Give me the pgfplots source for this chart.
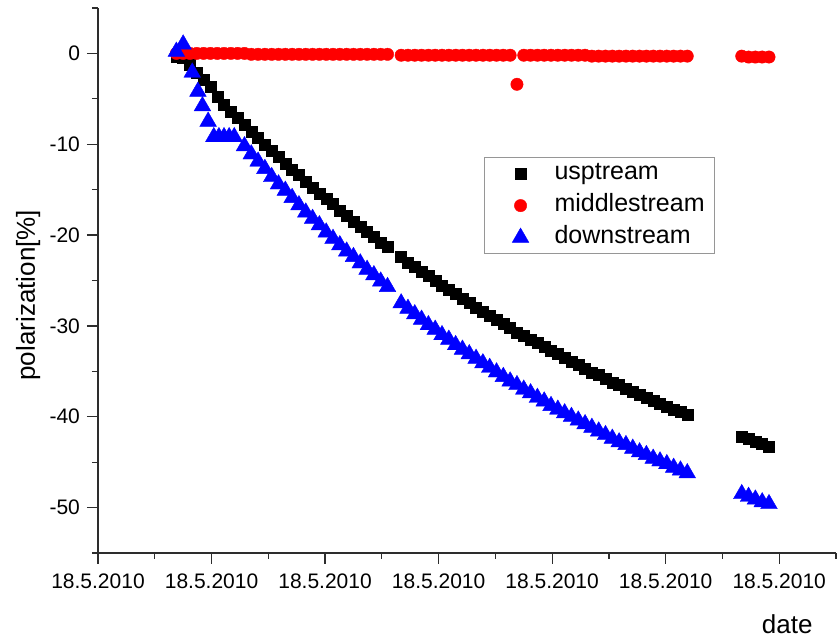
\documentclass[border=0pt]{standalone}
\usepackage{fontspec}
\setmainfont{Liberation Sans}
\usepackage{pgfplots}
\pgfplotsset{compat=1.18}
\definecolor{axisgray}{RGB}{45,45,45}
\definecolor{legframe}{RGB}{150,150,150}

\pgfplotsset{
  markleg/.style={legend image code/.code={%
    \path[draw=none, fill=none] (0pt,0pt) -- (30pt,0pt);
    \draw[##1, only marks] plot coordinates {(17pt,0pt)};}},
}

\begin{document}
\begin{tikzpicture}
\useasboundingbox (0,0) rectangle (418.5pt,320.5pt);
\begin{axis}[
  at={(49pt,44pt)}, anchor=south west,
  scale only axis, width=369pt, height=272.5pt,
  xmin=0, xmax=6.5, ymin=-55, ymax=5,
  axis x line*=bottom, axis y line*=left,
  axis line style={line width=0.65pt, axisgray},
  every tick/.style={line width=0.65pt, axisgray},
  tick align=outside,
  major tick length=5.5pt, minor tick length=3pt,
  xtick={0,1,2,3,4,5,6},
  minor xtick={0.5,1.5,2.5,3.5,4.5,5.5,6.5},
  xticklabel={18.5.2010},
  ytick={-50,-40,-30,-20,-10,0},
  minor ytick={-55,-45,-35,-25,-15,-5,5},
  /pgf/number format/assume math mode=true,
  ticklabel style={font=\fontsize{10.5}{12}\selectfont},
  xticklabel style={yshift=-1.5pt},
  xlabel={date},
  ylabel={polarization[\%]},
  xlabel style={font=\fontsize{13}{15}\selectfont, at={(axis description cs:0.934,0)}, anchor=base, yshift=-40.5pt},
  ylabel style={font=\fontsize{13}{15}\selectfont, at={(axis description cs:0,0.473)}, anchor=base, yshift=31.5pt},
  legend cell align=left,
  legend style={
    at={(axis description cs:0.523,0.7266)}, anchor=north west,
    draw=legframe, line width=0.6pt,
    font=\fontsize{12.5}{15}\selectfont,
    inner xsep=1pt, inner ysep=2pt, row sep=4pt,
    nodes={inner xsep=4pt, inner ysep=0pt, text height=9pt, text depth=3pt},
    /tikz/every odd column/.append style={column sep=0pt},
  },
]

% upstream
\addplot[only marks, mark=square*, mark size=2.75pt, color=black, mark options={line width=0.2pt}, markleg] coordinates {
(0.69,-0.4) (0.75,-0.5) (0.81,-1.2) (0.87,-2.1) (0.93,-2.9) (0.99,-3.7)
(1.05,-4.8) (1.11,-5.6) (1.17,-6.4) (1.23,-7.1) (1.29,-7.9) (1.35,-8.6)
(1.41,-9.3) (1.47,-10.0) (1.53,-10.7) (1.59,-11.4) (1.65,-12.1) (1.71,-12.8)
(1.77,-13.4) (1.83,-14.1) (1.89,-14.8) (1.95,-15.4) (2.01,-16.0) (2.07,-16.6)
(2.13,-17.3) (2.19,-17.9) (2.25,-18.5) (2.31,-19.1) (2.37,-19.6) (2.43,-20.2)
(2.49,-20.8) (2.55,-21.3)
(2.67,-22.4) (2.73,-23.0) (2.79,-23.5) (2.85,-24.0) (2.91,-24.5) (2.97,-25.0)
(3.03,-25.6) (3.09,-26.0) (3.15,-26.5) (3.21,-27.0) (3.27,-27.5) (3.33,-28.0)
(3.39,-28.4) (3.45,-28.9) (3.51,-29.3) (3.57,-29.8) (3.63,-30.2) (3.69,-30.7)
(3.75,-31.1) (3.81,-31.5) (3.87,-31.9) (3.93,-32.3) (3.99,-32.7) (4.05,-33.1)
(4.11,-33.5) (4.17,-33.9) (4.23,-34.3) (4.29,-34.7) (4.35,-35.1) (4.41,-35.4)
(4.47,-35.8) (4.53,-36.2) (4.59,-36.5) (4.65,-36.9) (4.71,-37.2) (4.77,-37.6)
(4.83,-37.9) (4.89,-38.2) (4.95,-38.6) (5.01,-38.9) (5.07,-39.2) (5.13,-39.5)
(5.19,-39.8)
(5.67,-42.2) (5.73,-42.4) (5.79,-42.7) (5.85,-43.0) (5.91,-43.3)
};
\addlegendentry{usptream}

% middlestream
\addplot[only marks, mark=*, mark size=3.1pt, color=red, mark options={line width=0.2pt}, markleg] coordinates {
(0.69,0.0) (0.75,0.0) (0.81,0.0) (0.87,0.0) (0.93,0.0) (0.99,0.0)
(1.05,0.0) (1.11,0.0) (1.17,0.0) (1.23,0.0) (1.29,0.0) (1.35,-0.1)
(1.41,-0.1) (1.47,-0.1) (1.53,-0.1) (1.59,-0.1) (1.65,-0.1) (1.71,-0.1)
(1.77,-0.1) (1.83,-0.1) (1.89,-0.1) (1.95,-0.1) (2.01,-0.1) (2.07,-0.1)
(2.13,-0.1) (2.19,-0.1) (2.25,-0.1) (2.31,-0.1) (2.37,-0.1) (2.43,-0.1)
(2.49,-0.1) (2.55,-0.1)
(2.67,-0.2) (2.73,-0.2) (2.79,-0.2) (2.85,-0.2) (2.91,-0.2) (2.97,-0.2)
(3.03,-0.2) (3.09,-0.2) (3.15,-0.2) (3.21,-0.2) (3.27,-0.2) (3.33,-0.2)
(3.39,-0.2) (3.45,-0.2) (3.51,-0.2) (3.57,-0.2) (3.63,-0.2) (3.69,-3.4)
(3.75,-0.2) (3.81,-0.2) (3.87,-0.2) (3.93,-0.2) (3.99,-0.2) (4.05,-0.2)
(4.11,-0.2) (4.17,-0.2) (4.23,-0.2) (4.29,-0.2) (4.35,-0.3) (4.41,-0.3)
(4.47,-0.3) (4.53,-0.3) (4.59,-0.3) (4.65,-0.3) (4.71,-0.3) (4.77,-0.3)
(4.83,-0.3) (4.89,-0.3) (4.95,-0.3) (5.01,-0.3) (5.07,-0.3) (5.13,-0.3)
(5.19,-0.3)
(5.67,-0.3) (5.73,-0.4) (5.79,-0.4) (5.85,-0.4) (5.91,-0.4)
};
\addlegendentry{middlestream}

% downstream
\addplot[only marks, mark=triangle*, mark size=4.8pt, color=blue, mark options={line width=0.2pt}, markleg] coordinates {
(0.69,0.2) (0.75,1.0) (0.83,-2.1) (0.88,-4.2) (0.92,-5.8) (0.97,-7.5)
(1.02,-9.2) (1.065,-9.2) (1.11,-9.2) (1.155,-9.2) (1.20,-9.2)
(1.29,-10.2) (1.35,-11.1) (1.41,-11.9) (1.47,-12.7) (1.53,-13.6) (1.59,-14.4)
(1.65,-15.1) (1.71,-15.9) (1.77,-16.7) (1.83,-17.5) (1.89,-18.2) (1.95,-18.9)
(2.01,-19.7) (2.07,-20.4) (2.13,-21.1) (2.19,-21.8) (2.25,-22.4) (2.31,-23.1)
(2.37,-23.8) (2.43,-24.4) (2.49,-25.1) (2.55,-25.7)
(2.67,-27.5) (2.73,-28.1) (2.79,-28.7) (2.85,-29.3) (2.91,-29.9) (2.97,-30.4)
(3.03,-31.0) (3.09,-31.5) (3.15,-32.1) (3.21,-32.6) (3.27,-33.1) (3.33,-33.6)
(3.39,-34.1) (3.45,-34.6) (3.51,-35.1) (3.57,-35.6) (3.63,-36.1) (3.69,-36.5)
(3.75,-37.0) (3.81,-37.4) (3.87,-37.9) (3.93,-38.3) (3.99,-38.8) (4.05,-39.2)
(4.11,-39.6) (4.17,-40.0) (4.23,-40.4) (4.29,-40.8) (4.35,-41.2) (4.41,-41.6)
(4.47,-42.0) (4.53,-42.4) (4.59,-42.8) (4.65,-43.1) (4.71,-43.5) (4.77,-43.9)
(4.83,-44.2) (4.89,-44.6) (4.95,-44.9) (5.01,-45.2) (5.07,-45.6) (5.13,-45.9)
(5.19,-46.2)
(5.67,-48.5) (5.73,-48.8) (5.79,-49.1) (5.85,-49.4) (5.91,-49.6)
};
\addlegendentry{downstream}

\end{axis}
\end{tikzpicture}
\end{document}
